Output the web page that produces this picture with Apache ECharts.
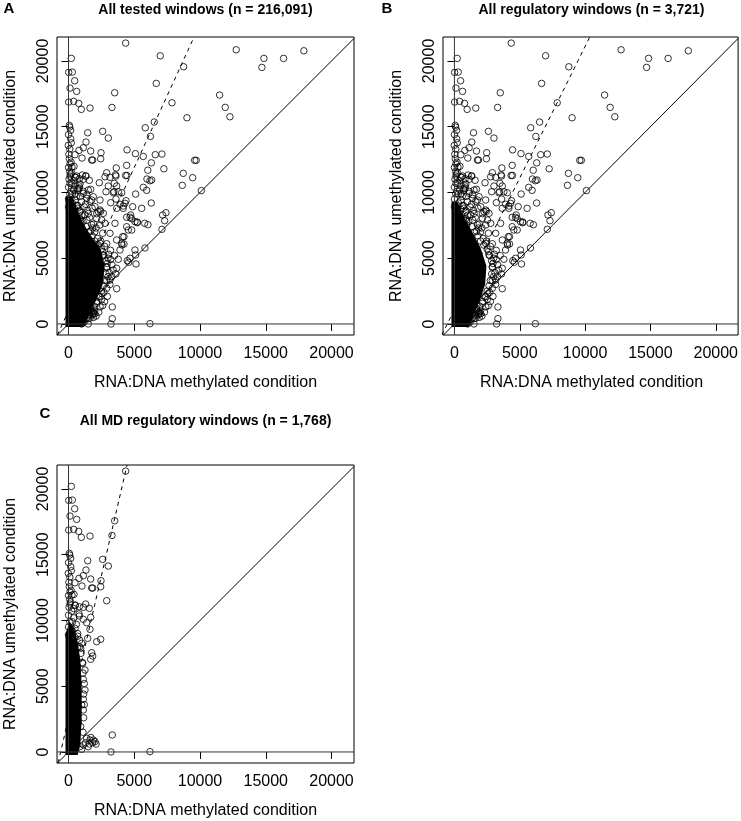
<!DOCTYPE html>
<html><head><meta charset="utf-8">
<script src="https://cdn.jsdelivr.net/npm/echarts@6/dist/echarts.min.js"></script>
<style>html,body{margin:0;padding:0;background:#fff}#c{width:741px;height:821px}</style>
</head><body><div id="c"></div>
<script>
// ---------------- data ----------------
const panelLetters = ['A', 'B', 'C'];
const panelTitles = ['All tested windows (n = 216,091)', 'All regulatory windows (n = 3,721)', 'All MD regulatory windows (n = 1,768)'];
const xTitle = 'RNA:DNA methylated condition';
const yTitle = 'RNA:DNA umethylated condition';
const tickValues = [0, 5000, 10000, 15000, 20000];
const xRange = [-875, 21710];
const yRange = [-840, 21820];

// dashed fitted lines [slope, intercept] per panel
const dashedA = [2.18, 1000];
const dashedB = [2.0, 1100];
const dashedC = [4.32, 2580];

// saturated (overplotted) cores, outline in data units
const coreA = [[-228,-228],[-228,9700],[300,9700],[700,8600],[1100,7700],[1700,6700],[2450,5700],[2750,4400],[2600,3000],[2100,1800],[1550,700],[1150,-228]];
const coreB = [[-228,-228],[-228,9300],[250,9300],[700,8200],[1300,7100],[2000,5800],[2450,4400],[2350,3000],[1950,1800],[1450,700],[1100,-228]];
const coreC = [[-228,-228],[-228,9000],[100,9900],[450,9400],[700,8300],[900,7000],[1000,5000],[1000,2500],[900,600],[700,-228]];

// points of MD regulatory windows (present in all panels)
const mdPoints = [
[4347,21356],[213,20193],[15,19129],[289,19152],[471,18491],[114,17936],[623,17685],
[15,16872],[395,16925],[775,16773],[973,16317],[1634,16416],[3511,17579],[3306,16465],
[91,14972],[60,15100],[167,14721],[1459,14539],[2599,14645],[3027,14136],
[167,14083],[213,13779],[-15,13581],[1330,13832],[1125,13399],[798,13201],[494,12867],[1026,12616],[1687,13148],[2470,13019],[2447,12563],[1763,12464],[1839,12464],
[61,12563],[114,12183],[266,11932],[91,11605],[114,11248],[418,11985],[2903,11499],[517,11149],[821,11043],[1307,11248],
[494,11172],[1125,10997],[1581,10921],[821,10336],[1125,10085],[1383,9827],[1687,10237],[1634,9325],[1459,8641],[2143,8383],[2447,8565],[1763,7547],[1687,7045],[1839,7296],[1254,6232],[1125,5525],[1125,4005],[1003,3572],[745,2227],
[1383,1041],[1634,912],[1839,707],[2014,783],[1581,608],[1125,532],[874,403],[3329,1292],[3230,0],[6194,23],
[1003,8261],[927,7881],[1079,6741],[1254,4712],[1125,3192],[927,1923],
[0,14400],[100,13300],[30,12900],[200,12300],[0,11900],[150,11400],[40,11000],[250,10700],[0,10400],[400,10200],[100,9900],[600,9700],[0,9500],[300,9200],[700,9000],[0,8900],[500,8700],[850,8500],[200,8300],[700,8000],
[1100,1500],[1150,2600],[1200,3600],[1150,4400],[1200,5200],[1100,6000],[1050,6800],[950,7500],[850,8000],[700,8800],[500,9400],[300,9900],[1000,200],[1300,700],[1700,1100],[1900,900],[2100,600],[1500,400],[800,10500],[400,10900]
];

// further points of regulatory windows (panels A and B)
const regPoints = [
[6977,20391],[8755,19555],[6673,18293],[7866,16819],[9006,15679],[6521,15352],[5837,14919],[12753,20847],[14858,20193],[14706,19509],[16355,20193],[17898,20771],[11491,17404],[11917,16469],[12274,15755],
[4450,13240],[5090,12950],[5685,12740],[6230,14260],[6600,12870],[7106,12920],[6300,12250],[4423,12060],[3630,11860],[4340,11290],[4440,11290],[3570,11340],[6030,11690],[7250,11800],[8725,11453],[9591,12441],[9713,12441],[9439,11120],[5966,11020],[6190,10891],[6323,10944],[5685,10389],[5943,10161],[8651,10541],[10100,10140],[5107,9880],[5563,8793],[6293,9196],[7159,8284],[7410,8459],[7311,7851],[7106,7197],[5791,7653],[6042,7547],[5229,7752],[5814,5776],[5107,5244],[5130,4560],[4575,4689],[3663,2683],[3329,403],[4165,8968],[4294,9173],[3663,8793],[3610,9500],[3458,10055],[3785,10055],[4423,8109],[4674,8109],[4803,8003],[4119,6635],[4218,6080],[4066,6004],
[243,11499],[623,11248],[1049,11324],[1330,11248],[114,10693],[494,10564],[874,10640],[745,10184],[1125,9933],[1505,10184],[1383,9553],[1763,9424],[1885,9675],[2341,10739],[2774,11195],[3154,11149],[3610,11248],[3481,10693],[3025,10488],[2850,10055],[3405,9979],[2394,9424],[2014,8915],[2394,8664],[2645,8413],[2265,8535],[2143,8033],[2523,7904],[2394,7524],[2774,7653],[3207,9219],[3663,10488],[4043,9979],[4370,9371],[3914,9097],[4879,8915],[4165,8793],[4727,8284],[5054,7775],[4423,7395],[3534,7653],[3154,6893],[3663,6384],[4043,6133],[4545,7144],[5229,7699],[4803,7144],[4218,6635],[3914,5624],[4469,4811],[5054,5624],[4674,4993],[3785,4917],[3663,4233],[3154,3344],[2903,2713],[2523,1877],[2903,4355],[2645,5244],[2394,6133],[2143,1573],[2394,2075],[1885,813],[1634,433],[1125,175],
[1800,8800],[1500,8400],[1900,7600],[1200,8900],[2100,7300],[2600,6900],[2900,6100],[3200,5600],[3000,5000],[3300,4500],[3100,3900],[2900,3300],[2700,2400],[2400,1300],[2000,1000],
[1100,7800],[1350,7400],[1550,7000],[1800,6700],[2000,6300],[2250,6000],[2500,5700],[2700,5200],[2850,4800],[2900,4300],[2850,3800],[2750,3300],[2650,2900],[2500,2500],[2300,2100],[2150,1700],[1950,1350],[1750,1000],[1550,700],[1350,400],[1200,150],[1000,0],[2600,5500],[2950,4600],[3000,3600],[2550,2300],[1700,1200],[1400,7900],[900,8600],[600,9000],[1250,8300],
[500,9900],[900,9700],[200,10100],[1300,9100],[700,10300],[1000,9300],[1600,8100],[2000,7000],[2200,6500],[2450,6300],[2750,5900],[3050,5300],[3200,4900],[3400,4100],[3300,3600],[3150,3000],[2950,2100],[2750,1700],[2300,900],[1900,500],[1500,0],[2600,1400],[3500,5200],[3600,3800]
];

const panelPoints = [mdPoints.concat(regPoints), mdPoints.concat(regPoints), mdPoints];
const panelCores = [coreA, coreB, coreC];
const panelDashed = [dashedA, dashedB, dashedC];

// ---------------- layout ----------------
const grids = [
  {left: 57, top: 37, width: 297, height: 298},
  {left: 443, top: 37, width: 297, height: 298},
  {left: 57, top: 465, width: 297, height: 298}
];
const FONT = '"Liberation Sans", Arial, Helvetica, sans-serif';

function lineThrough(slope, intercept) {
  const pts = [];
  [yRange[0], yRange[1]].forEach(y => pts.push([(y - intercept) / slope, y]));
  return pts;
}

const series = [];
const xAxes = [], yAxes = [];
grids.forEach((g, i) => {
  xAxes.push({
    type: 'value', gridIndex: i, min: xRange[0], max: xRange[1],
    axisLine: {show: false}, splitLine: {show: false},
    axisTick: {show: true, inside: false, length: 7, customValues: tickValues, lineStyle: {color: '#000', width: 1}},
    axisLabel: {show: true, customValues: tickValues, formatter: v => String(v), margin: 11, color: '#000', fontSize: 16, fontFamily: FONT}
  });
  yAxes.push({
    type: 'value', gridIndex: i, min: yRange[0], max: yRange[1],
    axisLine: {show: false}, splitLine: {show: false},
    axisTick: {show: true, inside: false, length: 7, customValues: tickValues, lineStyle: {color: '#000', width: 1}},
    axisLabel: {show: true, customValues: tickValues, formatter: v => String(v), margin: 5, rotate: 90, color: '#000', fontSize: 16, fontFamily: FONT}
  });
  const core = panelCores[i];
  series.push({
    type: 'custom', xAxisIndex: i, yAxisIndex: i, silent: true, animation: false,
    data: [[0, 0]], clip: true,
    renderItem: function (params, api) {
      return {type: 'polygon', shape: {points: core.map(p => api.coord(p))}, style: {fill: '#000'}};
    }
  });
  series.push({
    type: 'scatter', xAxisIndex: i, yAxisIndex: i, silent: true, animation: false,
    symbol: 'circle', symbolSize: 6.5,
    itemStyle: {color: 'rgba(0,0,0,0)', borderColor: '#000', borderWidth: 1},
    data: panelPoints[i]
  });
  const baseLine = {type: 'line', xAxisIndex: i, yAxisIndex: i, silent: true, animation: false, symbol: 'none', clip: true};
  series.push(Object.assign({}, baseLine, {data: [[xRange[0], xRange[0]], [xRange[1], xRange[1]]], lineStyle: {color: '#000', width: 1}}));
  series.push(Object.assign({}, baseLine, {data: lineThrough(panelDashed[i][0], panelDashed[i][1]), lineStyle: {color: '#000', width: 1, type: [4, 4]}}));
  series.push(Object.assign({}, baseLine, {data: [[0, yRange[0]], [0, yRange[1]]], lineStyle: {color: '#333', width: 1}}));
  series.push(Object.assign({}, baseLine, {data: [[xRange[0], 0], [xRange[1], 0]], lineStyle: {color: '#333', width: 1}}));
});

const graphics = [];
const letterPos = [[9, 9], [387, 9], [45, 414]];
const titleY = [10, 10, 421];
grids.forEach((g, i) => {
  const cx = g.left + g.width / 2;
  const cy = g.top + g.height / 2;
  graphics.push({type: 'text', x: letterPos[i][0], y: letterPos[i][1], style: {text: panelLetters[i], font: 'bold 15px ' + FONT, fill: '#000', align: 'center', verticalAlign: 'middle'}});
  graphics.push({type: 'text', x: cx, y: titleY[i], style: {text: panelTitles[i], font: 'bold 14px ' + FONT, fill: '#000', align: 'center', verticalAlign: 'middle'}});
  graphics.push({type: 'text', x: cx, y: g.top + g.height + 48, style: {text: xTitle, font: '16px ' + FONT, fill: '#000', align: 'center', verticalAlign: 'middle'}});
  graphics.push({type: 'text', x: g.left - 46, y: cy, rotation: Math.PI / 2, style: {text: yTitle, font: '16px ' + FONT, fill: '#000', align: 'center', verticalAlign: 'middle'}});
});

const chart = echarts.init(document.getElementById('c'), null, {renderer: 'canvas'});
chart.setOption({
  backgroundColor: '#fff',
  animation: false,
  grid: grids.map(g => Object.assign({show: true, borderColor: '#000', borderWidth: 1, backgroundColor: 'transparent', containLabel: false}, g)),
  xAxis: xAxes,
  yAxis: yAxes,
  series: series,
  graphic: graphics
});
</script></body></html>
